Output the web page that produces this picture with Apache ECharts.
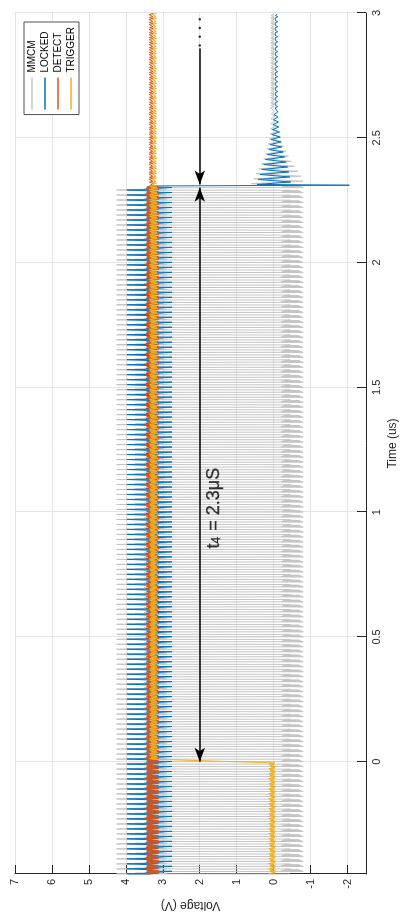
<!DOCTYPE html>
<html>
<head>
<meta charset="utf-8">
<script src="https://cdn.jsdelivr.net/npm/echarts@6.0.0/dist/echarts.min.js"></script>
<style>
html, body { margin: 0; padding: 0; background: #fff; overflow: hidden; }
/* the figure is a landscape plot turned a quarter turn, so draw it landscape and turn the box */
#chart {
    position: absolute; left: 0; top: 922px;
    width: 922px; height: 406px;
    transform-origin: 0 0; transform: rotate(-90deg);
}
</style>
</head>
<body>
<div id="chart"></div>
<script>
// 时间单位 us，电压单位 V
const seriesNames = ['MMCM', 'LOCKED', 'DETECT', 'TRIGGER'];
const seriesColors = ['#c4c4c4', '#0072bd', '#d95319', '#edb120'];

const clockPeriod = 0.02;   // one MMCM period, ~50 MHz
const tStart = -0.45;
const tTrigger = 0;
const tLoss = 2.31;         // LOCKED drops here
const tEnd = 3;

// one clock period of each trace: [fraction of period, volts]
const mmcmCycle = [[0, -0.45], [0.03, 4.25], [0.09, 2.9], [0.16, 3.75], [0.24, 3.0], [0.32, 3.5],
    [0.42, 3.25], [0.5, 3.35], [0.53, -0.8], [0.6, -0.2], [0.68, -0.75], [0.76, -0.25], [0.84, -0.7], [0.92, -0.3]];
const lockedCycle = [[0, 3.35], [0.05, 3.97], [0.12, 3.15], [0.22, 3.45], [0.32, 3.28], [0.5, 3.32],
    [0.55, 2.75], [0.63, 3.42], [0.72, 3.2], [0.85, 3.32]];
const detectCycle = [[0, 3.3], [0.08, 3.45], [0.2, 3.1], [0.33, 3.4], [0.5, 3.2], [0.6, 3.44], [0.72, 3.12], [0.86, 3.36]];
const triggerLowCycle = [[0, 0.02], [0.1, 0.13], [0.25, -0.04], [0.45, 0.08], [0.6, -0.05], [0.75, 0.1], [0.9, 0.0]];
const triggerHighCycle = [[0, 3.24], [0.12, 3.36], [0.27, 3.14], [0.45, 3.32], [0.6, 3.16], [0.76, 3.35], [0.9, 3.2]];
// quieter once the clock has stopped
const detectQuietCycle = [[0, 3.32], [0.2, 3.37], [0.4, 3.26], [0.6, 3.36], [0.8, 3.27]];
const triggerQuietCycle = [[0, 3.22], [0.2, 3.28], [0.4, 3.17], [0.6, 3.27], [0.8, 3.18]];

// after lock is lost: spike, then ringing peaks every half period
const lockedSpike = -2.05;
const lockedRing = [0.45, -0.46, 0.42, -0.44, 0.37, -0.41, 0.32, -0.38, 0.27, -0.34, 0.22, -0.3, 0.17, -0.26, 0.13,
    -0.22, 0.1, -0.2, 0.07, -0.18, 0.05, -0.16, 0.03, -0.14, 0.01, -0.13, 0.0, -0.12, -0.01, -0.11];
const mmcmRing = [0.6, -0.8, 0.54, -0.74, 0.47, -0.66, 0.4, -0.57, 0.33, -0.48, 0.27, -0.4, 0.22, -0.33, 0.18,
    -0.27, 0.15, -0.21, 0.12, -0.16, 0.1, -0.12, 0.09, -0.08, 0.08, -0.05, 0.07, -0.03, 0.06, -0.02];
const tTail = 2.62;
const lockedTail = [[0, -0.04], [0.25, -0.11], [0.5, -0.05], [0.75, -0.1]];
const mmcmTail = [[0, 0.08], [0.25, -0.01], [0.5, 0.07], [0.75, -0.02]];

// annotation
const arrowVolt = 2;
const spanArrow = [0, 2.3];
const afterArrow = [2.858, 2.313];
const dotTimes = [2.87, 2.905, 2.94, 2.975];
const noteAt = [1.016, 1.61];

function repeatCycle(cycle, from, to) {
    const pts = [];
    const n = Math.ceil((to - from) / clockPeriod - 1e-9);
    for (let k = 0; k < n; k++) {
        cycle.forEach(p => {
            const t = from + (k + p[0]) * clockPeriod;
            if (t < to - 1e-9) pts.push([t, p[1]]);
        });
    }
    return pts;
}

function halfSteps(values, from) {
    return values.map((v, i) => [from + i * clockPeriod / 2, v]);
}

const mmcmData = repeatCycle(mmcmCycle, tStart, tLoss)
    .concat(halfSteps(mmcmRing, tLoss + 0.006))
    .concat(repeatCycle(mmcmTail, tTail, tEnd));
const lockedData = repeatCycle(lockedCycle, tStart, tLoss)
    .concat([[tLoss, lockedSpike]])
    .concat(halfSteps(lockedRing, tLoss + 0.003))
    .concat(repeatCycle(lockedTail, tTail, tEnd));
const detectData = repeatCycle(detectCycle, tStart, tLoss)
    .concat(repeatCycle(detectQuietCycle, tLoss, tEnd));
const triggerData = repeatCycle(triggerLowCycle, tStart, tTrigger - 0.002)
    .concat(repeatCycle(triggerHighCycle, tTrigger + 0.01, tLoss))
    .concat(repeatCycle(triggerQuietCycle, tLoss, tEnd));

const traceData = [mmcmData, lockedData, detectData, triggerData];

const chart = echarts.init(document.getElementById('chart'));

const axisColor = '#262626';
const gridColor = '#e4e4e4';
const font = 'Liberation Sans, Arial, Helvetica, sans-serif';

const series = seriesNames.map((name, i) => ({
    name: name,
    type: 'line',
    data: traceData[i],
    showSymbol: false,
    symbol: 'none',
    silent: true,
    lineStyle: { color: seriesColors[i], width: 1 },
    itemStyle: { color: seriesColors[i] }
}));

// arrows, the dots and the t4 label
const noteText = { color: '#000', textBorderColor: '#000', textBorderWidth: 0.25, fontFamily: font };
series.push({
    name: 'note',
    type: 'scatter',
    silent: true,
    z: 10,
    data: [noteAt],
    symbolSize: 2,
    itemStyle: { color: 'rgba(0,0,0,0)' },
    label: {
        show: true,
        position: 'inside',
        color: '#000',
        formatter: '{a|t}{b|4}{a| = 2.3μS}',
        rich: {
            a: Object.assign({ fontSize: 18, lineHeight: 18, verticalAlign: 'top' }, noteText),
            b: Object.assign({ fontSize: 12, lineHeight: 12, verticalAlign: 'bottom', padding: [8, 1, 0, 0] }, noteText)
        }
    },
    labelLayout: { hideOverlap: false },
    markLine: {
        silent: true,
        animation: false,
        label: { show: false },
        symbolSize: [8, 14],
        lineStyle: { color: '#000', width: 1.5, type: 'solid' },
        emphasis: { disabled: true },
        data: [
            [{ coord: [spanArrow[0], arrowVolt], symbol: 'arrow' }, { coord: [spanArrow[1], arrowVolt], symbol: 'arrow' }],
            [{ coord: [afterArrow[0], arrowVolt], symbol: 'none' }, { coord: [afterArrow[1], arrowVolt], symbol: 'arrow' }]
        ]
    }
});
series.push({
    name: 'dots',
    type: 'scatter',
    silent: true,
    data: dotTimes.map(t => [t, arrowVolt]),
    symbolSize: 2.5,
    itemStyle: { color: '#000' }
});

chart.setOption({
    animation: false,
    textStyle: { fontFamily: font },
    grid: { left: 48, right: 13, top: 15, bottom: 40 },
    legend: {
        // plain line samples, no marker
        data: seriesNames.map(n => ({ name: n, icon: 'path://M0,0H32V1.3H0Z' })),
        orient: 'vertical',
        right: 22,
        top: 24,
        itemWidth: 32,
        itemHeight: 10,
        itemGap: 3,
        padding: [3, 5, 3, 5],
        backgroundColor: '#fff',
        borderColor: axisColor,
        borderWidth: 0.8,
        selectedMode: false,
        textStyle: { fontSize: 10, color: '#000', fontFamily: font }
    },
    xAxis: {
        type: 'value',
        min: tStart,
        max: tEnd,
        splitNumber: 7,
        name: 'Time (us)',
        nameLocation: 'middle',
        nameGap: 21,
        nameTextStyle: { fontSize: 12, color: axisColor },
        axisLine: { show: true, onZero: false, lineStyle: { color: axisColor } },
        axisTick: { show: true, inside: true, length: 9, lineStyle: { color: axisColor } },
        axisLabel: { margin: 5, fontSize: 11, color: axisColor, showMinLabel: false },
        splitLine: { show: true, lineStyle: { color: gridColor } }
    },
    yAxis: {
        type: 'value',
        min: -2.5,
        max: 7,
        splitNumber: 9,
        name: 'Voltage (V)',
        nameLocation: 'middle',
        nameGap: 21,
        nameTextStyle: { fontSize: 12, color: axisColor },
        axisLine: { show: true, onZero: false, lineStyle: { color: axisColor } },
        axisTick: { show: true, inside: true, length: 9, lineStyle: { color: axisColor } },
        axisLabel: { margin: 5, fontSize: 11, color: axisColor, showMinLabel: false },
        splitLine: { show: true, lineStyle: { color: gridColor } }
    },
    series: series
});
</script>
</body>
</html>
